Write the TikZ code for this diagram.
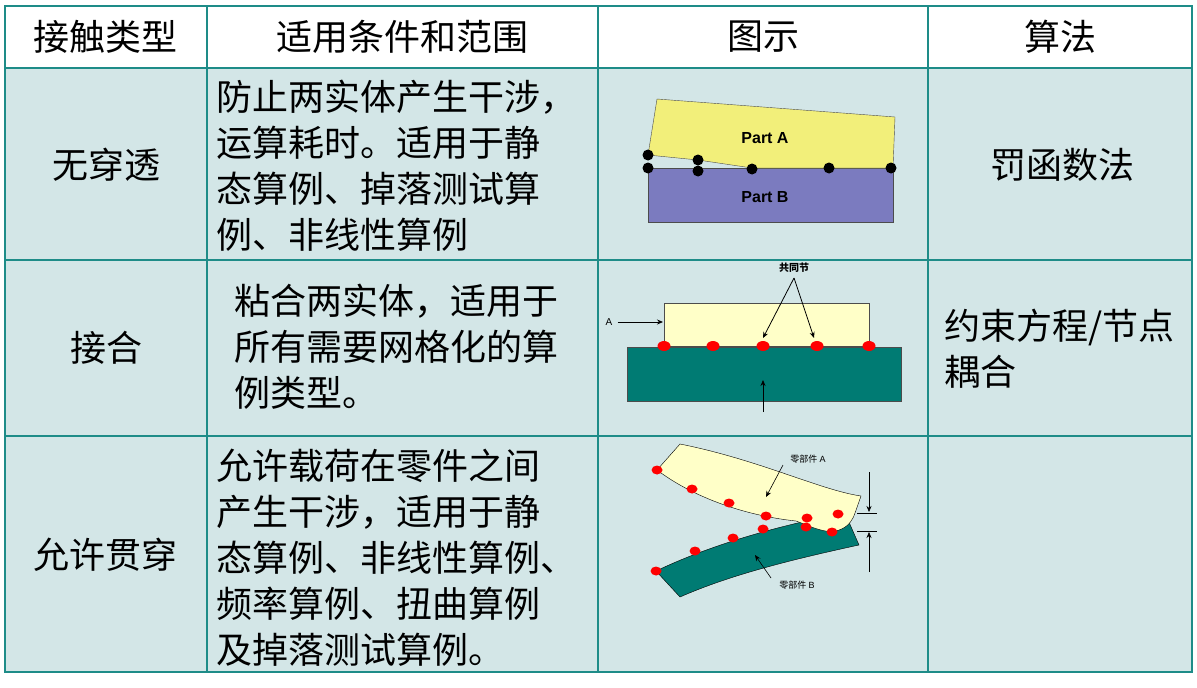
\documentclass[tikz,border=0pt]{standalone}
\usepackage{fontspec}
\setmainfont{Noto Sans CJK SC}
\newfontfamily\lab{Liberation Sans}
\usetikzlibrary{arrows.meta}
\definecolor{grid}{HTML}{1E8C88}
\definecolor{cellbg}{HTML}{D3E6E7}
\definecolor{pa}{HTML}{F2EF7A}
\definecolor{pb}{HTML}{7B7BBF}
\definecolor{ly}{HTML}{FFFFC8}
\definecolor{tl}{HTML}{007B73}
\begin{document}
\begin{tikzpicture}[x=1pt,y=-1pt,
  txt/.style={font=\fontsize{36}{46}\selectfont,inner sep=0pt},
  ltxt/.style={txt,anchor=west,align=left},
  ctxt/.style={txt,anchor=center},
  bdot/.style={fill=black,draw=none},
  rdot/.style={fill=red,draw=none},
  arr/.style={-{Stealth[length=6pt,width=5pt]},line width=0.8pt},
  small/.style={font=\fontsize{9}{10}\selectfont,inner sep=0pt}]
\useasboundingbox (0,0) rectangle (1197,688);
\fill[white] (0,0) rectangle (1197,688);
\fill[cellbg] (5,68) rectangle (1192,672);
\draw[grid,line width=2.5pt] (5,6) rectangle (1192,672);
\foreach \y in {68,260,436} \draw[grid,line width=2.5pt] (5,\y) -- (1192,\y);
\foreach \x in {207,598,928} \draw[grid,line width=2pt] (\x,6) -- (\x,672);
% header
\node[ctxt] (h1) at (106,37) {接触类型};
\node[ctxt] (h2) at (402,37) {适用条件和范围};
\node[ctxt] (h3) at (763,37) {图示};
\node[ctxt] (h4) at (1060,37) {算法};
% col1
\node[ctxt] (c1) at (106,165) {无穿透};
\node[ctxt] (c2) at (106,348) {接合};
\node[ctxt] (c3) at (106,555) {允许贯穿};
% col2
\node[ltxt] (d1) at (216,166) {防止两实体产生干涉，\\运算耗时。适用于静\\态算例、掉落测试算\\例、非线性算例};
\node[ltxt] (d2) at (234,347) {粘合两实体，适用于\\所有需要网格化的算\\例类型。};
\node[ltxt] (d3) at (216,558) {允许载荷在零件之间\\产生干涉，适用于静\\态算例、非线性算例、\\频率算例、扭曲算例\\及掉落测试算例。};
% col4
\node[ctxt] (a1) at (1062,165) {罚函数法};
\node[ltxt] (a2) at (944,349) {约束方程/节点\\耦合};
% fig1
\draw[fill=pb,draw=black!70] (648,168) rectangle (893,222);
\draw[fill=pa,draw=black!70] (657,99) -- (895,117) -- (893,168) -- (752,168) -- (698,160) -- (648,155) -- cycle;
\node[font=\lab\bfseries\fontsize{16}{18}\selectfont] (pA) at (765,138) {Part A};
\node[font=\lab\bfseries\fontsize{16}{18}\selectfont] (pB) at (765,197) {Part B};
\foreach \p in {(648,155),(698,160),(648,168),(698,171),(752,169),(829,168),(891,168)} \fill[bdot] \p circle (5.5);
% fig2
\draw[fill=tl,draw=black!70] (627,347) rectangle (901,401);
\draw[fill=ly,draw=black!70] (664,303) rectangle (869,346);
\foreach \x in {664,713,763,817,869} \fill[rdot] (\x,346) ellipse (6.5 and 5);
\node[small,font=\bfseries\fontsize{10}{11}\selectfont] (gn) at (794,268) {共同节};
\coordinate (gn1) at (794,278);
\coordinate (t1) at (763,338);
\coordinate (t2) at (814,338);
\draw[arr] (gn1) -- (t1);
\draw[arr] (gn1) -- (t2);
\node[small,font=\lab\fontsize{10}{11}\selectfont] (lA) at (609,322) {A};
\coordinate (aE) at (663,322);
\draw[arr] (lA.east) ++(5,0) -- (aE);
\coordinate (u0) at (763,412); \coordinate (u1) at (763,380);
\draw[arr] (u0) -- (u1);
% fig3
\draw[fill=tl,draw=black] (656,571) .. controls (710,545) and (780,525) .. (845,513) -- (859,545) .. controls (790,560) and (730,575) .. (680,597) -- cycle;
\draw[fill=ly,draw=black] (680,444) .. controls (760,460) and (820,490) .. (861,496) -- (855,513) .. controls (850,528) and (840,530) .. (832,532) .. controls (815,530) and (805,524) .. (796,521) .. controls (740,515) and (690,495) .. (657,470) -- cycle;
\foreach \p in {(657,470),(692,489),(729,503),(766,516),(807,518),(838,514),(656,571),(695,551),(733,538),(763,529),(806,527),(832,532)} \fill[rdot] \p ellipse (5.5 and 4.5);
\node[small] (zA) at (808,459) {零部件 {\lab A}};
\node[small] (zB) at (797,585) {零部件 {\lab B}};
\coordinate (zA1) at (766,497); \coordinate (zB1) at (755,555);
\draw[-{Stealth[length=6pt,width=5pt]},line width=0.6pt] (783,465) -- (zA1);
\draw[-{Stealth[length=6pt,width=5pt]},line width=0.6pt] (771,578) -- (zB1);
\draw[line width=0.5pt] (857,513) -- (877,513) (857,531) -- (877,531);
\coordinate (m0) at (869,472); \coordinate (m1) at (869,512);
\coordinate (m2) at (869,572); \coordinate (m3) at (869,532);
\draw[-{Stealth[length=6pt,width=5pt]},line width=0.6pt] (m0) -- (m1);
\draw[-{Stealth[length=6pt,width=5pt]},line width=0.6pt] (m2) -- (m3);
\end{tikzpicture}
\end{document}
